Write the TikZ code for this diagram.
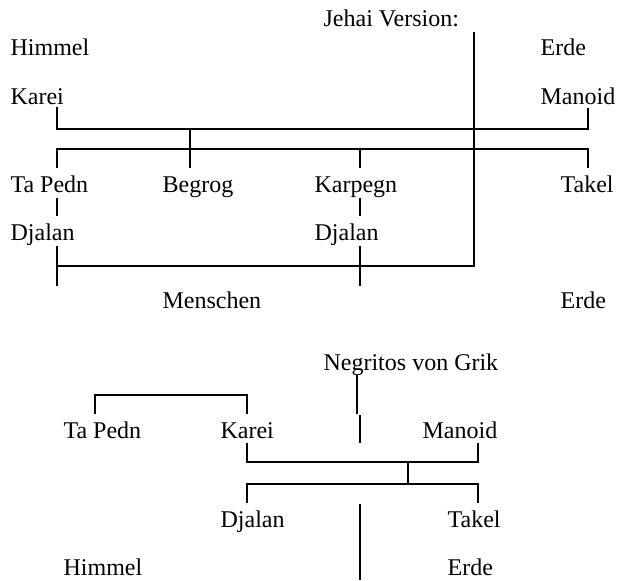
\documentclass[tikz,border=0pt]{standalone}
\usepackage{fontspec}
\setmainfont{Liberation Serif}
\begin{document}
\begin{tikzpicture}[x=0.5pt,y=-0.5pt,line width=0.6pt,
    word/.style={anchor=base west,inner sep=0pt,font=\fontsize{12}{14}\selectfont}]
\useasboundingbox (0,0) rectangle (617,580);
% Jehai Version
\foreach \n/\x/\y/\t in {jehai/323/26/Jehai Version:,
    himmelA/10/55/Himmel,erdeA/540/55/Erde,
    kareiA/10/104/Karei,manoidA/540/104/Manoid,
    tapednA/10/192/Ta Pedn,begrog/162/192/Begrog,karpegn/314/192/Karpegn,takelA/560/192/Takel,
    djalanA/10/240/Djalan,djalanB/314/240/Djalan,
    menschen/162/308/Menschen,erdeB/560/308/Erde}
{
    \node[word] (\n) at (\x,\y) {\t};
}
\foreach \n/\x/\y in {kar/57/107,man/588/108,eheA/190/129,beg/190/168,
    kidsA/360/149,tap/57/168,kap/360/168,tak/588/168,
    tpA/57/198,djA/57/216,kpA/360/198,djB/360/216,
    mbA/57/246,meA/57/286,mbB/360/246,meB/360/286,
    jv/474/32,mh/57/266}
{
    \coordinate (\n) at (\x,\y);
}
\draw (kar) |- (eheA) -| (man);
\draw (eheA) -- (beg);
\draw (tap) |- (kidsA) -| (tak);
\draw (kidsA) -- (kap);
\draw (tpA) -- (djA);
\draw (kpA) -- (djB);
\draw (mbA) -- (meA);
\draw (mbB) -- (meB);
\draw (jv) |- (mh);

% Negritos von Grik
\foreach \n/\x/\y/\t in {negritos/323/370/Negritos von Grik,
    tapednB/63/438/Ta Pedn,kareiB/220/438/Karei,manoidB/422/438/Manoid,
    djalanC/220/527/Djalan,takelB/447/527/Takel,
    himmelB/63/575/Himmel,erdeC/447/575/Erde}
{
    \node[word] (\n) at (\x,\y) {\t};
}
\foreach \n/\x/\y in {ngA/357/375,ngB/357/414,ngC/360/415,ngD/360/443,
    tpB/95/414,tpT/95/395,krB/247/414,
    krC/247/443,mnC/478/443,eheB/408/462,kidsB/408/484,
    djC/247/503,tkC/478/503,axA/360/504,axB/360/580}
{
    \coordinate (\n) at (\x,\y);
}
\draw (ngA) -- (ngB);
\draw (ngC) -- (ngD);
\draw (tpB) -- (tpT) -| (krB);
\draw (krC) |- (eheB) -| (mnC);
\draw (eheB) -- (kidsB);
\draw (djC) |- (kidsB) -| (tkC);
\draw (axA) -- (axB);
\end{tikzpicture}
\end{document}
